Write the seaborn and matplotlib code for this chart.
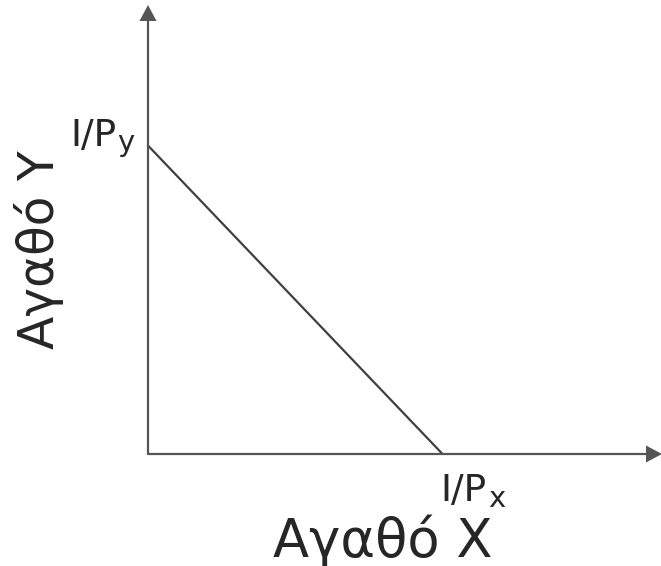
import numpy as np
import pandas as pd
import matplotlib.pyplot as plt
from matplotlib.patches import Polygon
from matplotlib.lines import Line2D
import seaborn as sns

# budget line: intercepts on each axis (axis length = 10 units)
good_x = [0.0, 5.73]
good_y = [6.87, 0.0]
x_label = "Αγαθό Χ"
y_label = "Αγαθό Υ"
tick_main = "I/P"
x_sub = "x"
y_sub = "y"

sns.set_style("white")
plt.rcParams["font.family"] = ["DejaVu Sans"]

W, H = 661, 566
fig = plt.figure(figsize=(W / 100, H / 100), dpi=100)
ox, oy = 148, 454          # origin in pixels
tip_x, tip_y = 662, 5      # arrow tips
ax = fig.add_axes([ox / W, (H - oy) / H, (tip_x - ox) / W, (oy - tip_y) / H])
for s in ax.spines.values():
    s.set_visible(False)
ax.set_xticks([])
ax.set_yticks([])
ax.patch.set_alpha(0)

axis_col = "#555555"
line_col = "#404040"


def px(x, y):
    # figure pixel (from top-left) -> figure fraction
    return x / W, 1 - y / H


# axes with arrowheads
head_len, head_half = 16, 8.5
for (x0, y0), (x1, y1) in [((ox, oy), (tip_x, oy)), ((ox, oy), (ox, tip_y))]:
    if y0 == y1:
        end = (x1 - head_len + 2, y1)
        tri = [px(x1 - head_len, y1 - head_half), px(x1 - head_len, y1 + head_half),
               px(x1, y1)]
    else:
        end = (x1, y1 + head_len - 2)
        tri = [px(x1 - head_half, y1 + head_len), px(x1 + head_half, y1 + head_len),
               px(x1, y1)]
    fig.add_artist(Line2D(*zip(px(x0, y0), px(*end)), color=axis_col, lw=1.6,
                          transform=fig.transFigure))
    fig.add_artist(Polygon(tri, closed=True, color=axis_col, lw=0,
                           transform=fig.transFigure))

df = pd.DataFrame({"x": good_x, "y": good_y})
sns.lineplot(data=df, x="x", y="y", color=line_col, lw=1.6, ax=ax)
ax.set_xlabel("")
ax.set_ylabel("")
ax.set_xlim(0, 10)
ax.set_ylim(0, 10)

# intercept labels, main part + subscript
fig.text(*px(116, 146), tick_main, fontsize=27, ha="right", va="baseline")
fig.text(*px(117, 151), y_sub, fontsize=21, ha="left", va="baseline")
fig.text(*px(486, 501), tick_main, fontsize=27, ha="right", va="baseline")
fig.text(*px(488, 507), x_sub, fontsize=21, ha="left", va="baseline")

fig.text(*px(383, 557), x_label, fontsize=38, ha="center", va="baseline")
fig.text(*px(54, 250), y_label, fontsize=35, ha="center", va="baseline",
         rotation=90, rotation_mode="anchor")

fig.savefig("out.png", dpi=100)
